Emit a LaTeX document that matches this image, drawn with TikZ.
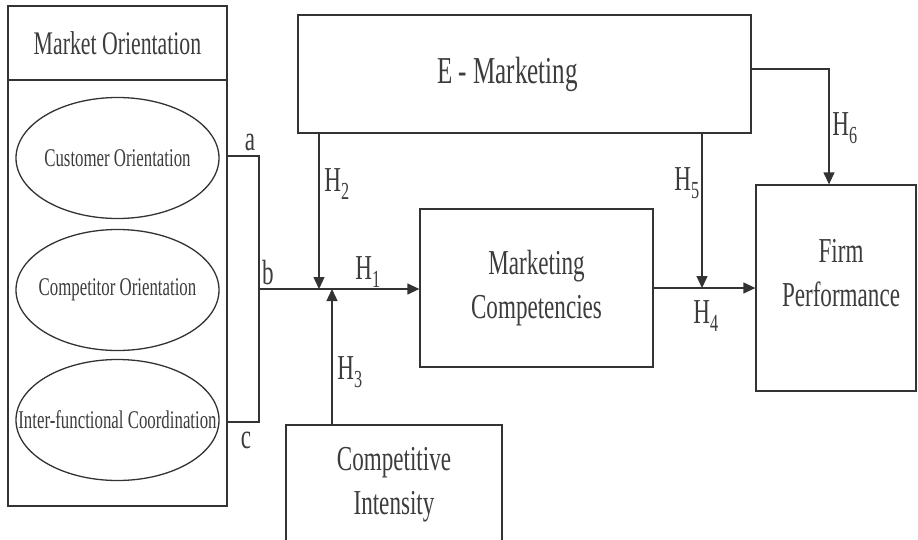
\documentclass[tikz,border=0pt]{standalone}
\usepackage{fontspec}
\setmainfont[FakeStretch=0.66]{Liberation Serif}
\usetikzlibrary{arrows.meta,shapes.geometric,positioning}
\definecolor{inkgray}{HTML}{333333}
\definecolor{textgray}{HTML}{3C3C3C}
\tikzset{
  box/.style={
    shape = rectangle,
    draw = inkgray,
    line width = 1.3pt,
    inner sep = 0pt,
    align = center,
    text = textgray,
    font = \fontsize{35}{44}\selectfont
  },
  dim/.style={
    shape = ellipse,
    draw = inkgray,
    line width = 1.3pt,
    inner sep = 0pt,
    minimum width = 203pt,
    minimum height = 121pt
  },
  dimtext/.style={
    text = textgray,
    inner sep = 0pt,
    font = \fontsize{25.5}{30}\selectfont
  },
  link/.style={
    draw = inkgray,
    line width = 1.3pt,
    -{Triangle[length=12pt,width=11pt]}
  },
  wire/.style={
    draw = inkgray,
    line width = 1.3pt
  },
  hyp/.style={
    text = textgray,
    inner sep = 1pt,
    font = \fontsize{35}{38}\selectfont
  },
}
\begin{document}
\begin{tikzpicture}[x=1pt,y=-1pt]
  \useasboundingbox (0,0) rectangle (918,539);
  % market orientation block
  \node[box, minimum width=219pt, minimum height=74pt, font=\fontsize{33}{38}\selectfont] (motitle) at (117.5,43) {Market Orientation};
  \node[box, minimum width=219pt, minimum height=426pt] (mo) at (117.5,293) {};
  \node[dim, label={[dimtext]center:Customer Orientation}] (cust) at (117.5,158) {};
  \node[dim, label={[dimtext]center:Competitor Orientation}] (comp) at (117.5,290) {};
  \node[dim, label={[dimtext]center:Inter-functional Coordination}] (inter) at (117.5,420) {};
  % other constructs
  \node[box, minimum width=453pt, minimum height=118pt, font=\fontsize{38}{44}\selectfont] (emkt) at (524.5,74) {E - Marketing\hspace*{34pt}};
  \node[box, minimum width=233pt, minimum height=158pt] (mc) at (536.5,288) {Marketing\\Competencies};
  \node[box, minimum width=160pt, minimum height=206pt] (fp) at (836,288) {\hspace*{10pt}Firm\\\hspace*{10pt}Performance\\[-14pt]\mbox{}};
  \node[box, minimum width=216pt, minimum height=120pt] (ci) at (394,485) {Competitive\\Intensity};
  % junctions
  \coordinate (ja) at (259,156);
  \coordinate (jb) at (259,289);
  \coordinate (jc) at (259,422);
  \coordinate (m2) at (319,289);
  \coordinate (m3) at (332,289);
  \coordinate (m5) at (702,288);
  \coordinate (k6) at (829,69);
  \draw[wire] (mo.east |- ja) -- (ja) -- (jc) -- (mo.east |- jc);
  \draw[link] (jb) -- (jb -| mc.west);
  \draw[link] (m2 |- emkt.south) -- (m2);
  \draw[link] (ci.north -| m3) -- (m3);
  \draw[link] (mc.east) -- (fp.west);
  \draw[link] (m5 |- emkt.south) -- (m5);
  \draw[link] (emkt.east |- k6) -- (k6) -- (k6 |- fp.north);
  % labels
  \node[hyp] (la) at (250,142) {a};
  \node[hyp] (lb) at (268,273) {b};
  \node[hyp] (lc) at (246,440) {c};
  \node[hyp] (h1) at (368,272) {H\textsubscript{1}};
  \node[hyp] (h2) at (337,184) {H\textsubscript{2}};
  \node[hyp] (h3) at (350,372) {H\textsubscript{3}};
  \node[hyp] (h4) at (706,316) {H\textsubscript{4}};
  \node[hyp] (h5) at (687,183) {H\textsubscript{5}};
  \node[hyp] (h6) at (845,128) {H\textsubscript{6}};
\end{tikzpicture}
\end{document}
